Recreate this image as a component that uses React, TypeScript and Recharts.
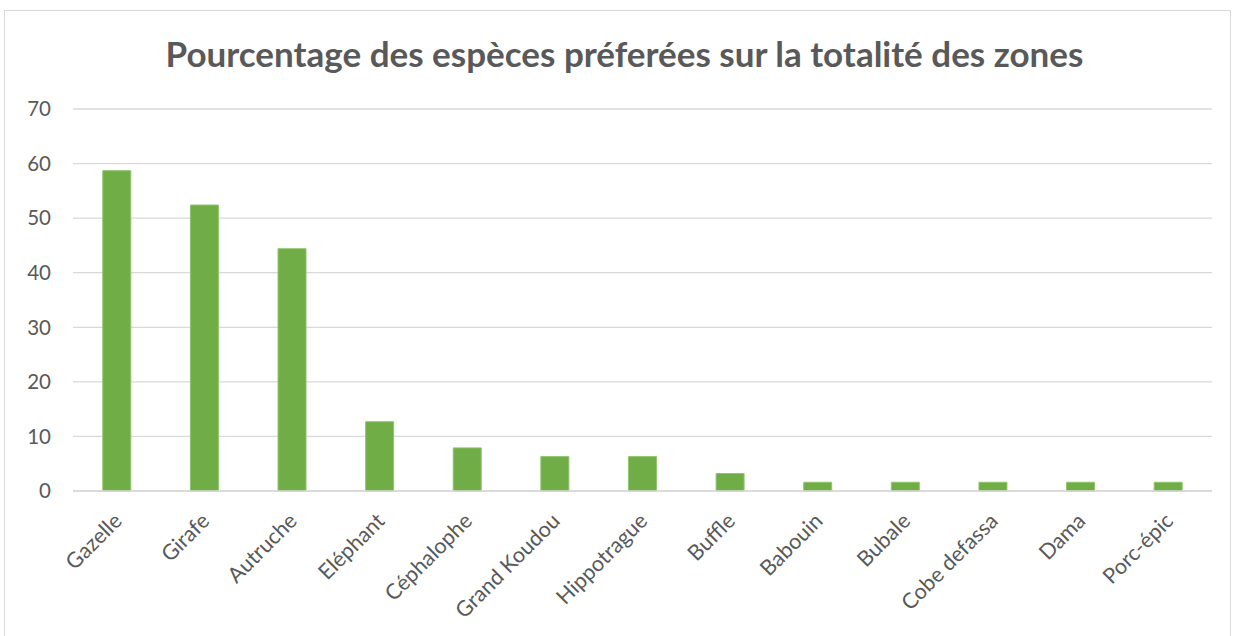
import { Bar, BarChart, CartesianGrid, XAxis, YAxis } from 'recharts'

const species = [
  'Gazelle',
  'Girafe',
  'Autruche',
  'Eléphant',
  'Céphalophe',
  'Grand Koudou',
  'Hippotrague',
  'Buffle',
  'Babouin',
  'Bubale',
  'Cobe defassa',
  'Dama',
  'Porc-épic',
]
const percentages = [58.7, 52.4, 44.4, 12.7, 7.9, 6.3, 6.3, 3.2, 1.6, 1.6, 1.6, 1.6, 1.6]
const yTicks = [0, 10, 20, 30, 40, 50, 60, 70]

const data = species.map((name, i) => ({ name, value: percentages[i] }))

const FONT = 'Lato, "Open Sans", sans-serif'
const TEXT = '#595959'

function SlantTick(props: any) {
  const { x, y, payload } = props
  return (
    <g transform={`translate(${x},${y})`}>
      <text
        x={0}
        y={0}
        dy={21}
        dx={-12}
        textAnchor="end"
        transform="rotate(-45)"
        fill={TEXT}
        fontSize={21.5}
        fontFamily={FONT}
      >
        {payload.value}
      </text>
    </g>
  )
}

export default function App() {
  return (
    <div style={{ position: 'absolute', left: 0, top: 0, width: 1243, height: 636, background: '#fff', overflow: 'hidden' }}>
      <div
        style={{
          position: 'absolute',
          left: 4,
          top: 10,
          width: 1227,
          height: 640,
          border: '1px solid #d9d9d9',
          boxSizing: 'border-box',
        }}
      >
        <div
          style={{
            position: 'absolute',
            left: 14,
            right: 0,
            top: 21,
            textAlign: 'center',
            fontFamily: FONT,
            fontWeight: 700,
            fontSize: 35,
            color: TEXT,
          }}
        >
          Pourcentage des espèces préferées sur la totalité des zones
        </div>
        <div style={{ position: 'absolute', left: 0, top: 0 }}>
          <BarChart
            width={1226}
            height={626}
            data={data}
            margin={{ top: 98, right: 19, bottom: 0, left: 0 }}
            barCategoryGap="34%"
          >
            <CartesianGrid vertical={false} stroke="#d9d9d9" strokeWidth={1.3} />
            <XAxis
              dataKey="name"
              interval={0}
              axisLine={{ stroke: '#d9d9d9', strokeWidth: 1.5 }}
              tickLine={false}
              tick={<SlantTick />}
              height={146}
            />
            <YAxis
              domain={[0, 70]}
              ticks={yTicks}
              width={68}
              axisLine={false}
              tickLine={false}
              tickSize={0}
              tickMargin={22}
              tick={{ fill: TEXT, fontSize: 20.5, fontFamily: FONT }}
            />
            <Bar dataKey="value" fill="#70ad47" stroke="#8fc46c" strokeWidth={1} isAnimationActive={false} />
          </BarChart>
        </div>
      </div>
    </div>
  )
}
